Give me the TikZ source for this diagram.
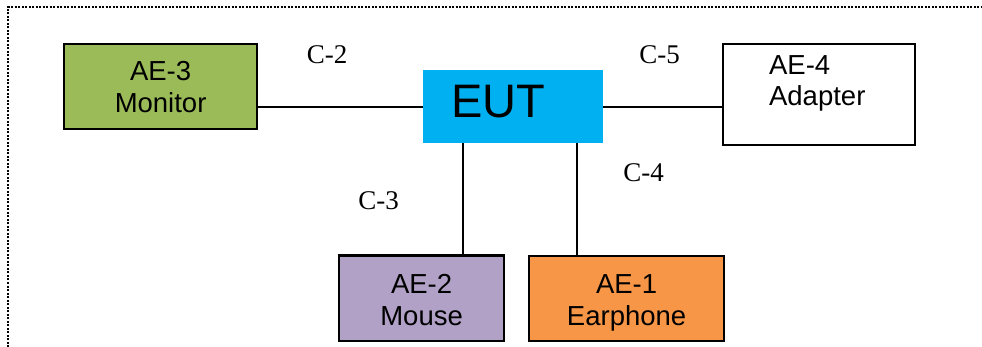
\documentclass[tikz,border=0pt]{standalone}
\usepackage{fontspec}
\setmainfont{Liberation Serif}
\setsansfont{Liberation Sans}
\usetikzlibrary{positioning}
\definecolor{aegreen}{HTML}{9BBB59}
\definecolor{eutblue}{HTML}{00B0F0}
\definecolor{aepurple}{HTML}{B2A1C7}
\definecolor{aeorange}{HTML}{F79646}
\begin{document}
\begin{tikzpicture}[x=1pt,y=-1pt,
        box/.style={draw,line width=2.2pt,anchor=north west,inner ysep=0pt,inner xsep=4pt,align=center,font=\sffamily\fontsize{27.5}{31.5}\selectfont},
        cab/.style={anchor=base,font=\rmfamily\fontsize{27}{30}\selectfont},
        wire/.style={line width=2pt}]
        \useasboundingbox(0,0)rectangle(982,347);
        \draw[line width=2pt,dash pattern=on 2pt off 1.5pt](8,347)--(8,7)--(982,7);
        \node[box,fill=aegreen,text width=185pt,text height=36.5pt,text depth=48.5pt](mon)at(63,43){AE-3\\Monitor};
        \node[anchor=north west,fill=eutblue,inner ysep=0pt,inner xsep=28pt,text width=124pt,text height=47pt,text depth=26pt,align=left,font=\sffamily\fontsize{47}{50}\selectfont](eut)at(423,70){EUT};
        \node[box,fill=white,inner xsep=46pt,text width=100pt,text height=30pt,text depth=71pt,align=left](ada)at(722,43){AE-4\\Adapter};
        \node[box,fill=aepurple,text width=157pt,text height=38pt,text depth=47.5pt](mou)at(338,254.5){AE-2\\Mouse};
        \node[box,fill=aeorange,text width=187pt,text height=37.5pt,text depth=47.5pt](ear)at(528,255){AE-1\\Earphone};
        \coordinate(k3)at(462.5,0);
        \coordinate(k4)at(576.5,0);
        \draw[wire](eut.west)--(eut.west-|mon.east);
        \draw[wire](eut.east)--(eut.east-|ada.west);
        \draw[wire](eut.south-|k3)--(mou.north-|k3);
        \draw[wire](eut.south-|k4)--(ear.north-|k4);
        \node[cab](c2)at(327,63.5){C-2};
        \node[cab](c5)at(659.5,63.5){C-5};
        \node[cab](c3)at(378.5,210){C-3};
        \node[cab](c4)at(643.5,181.5){C-4};
\end{tikzpicture}
\end{document}
